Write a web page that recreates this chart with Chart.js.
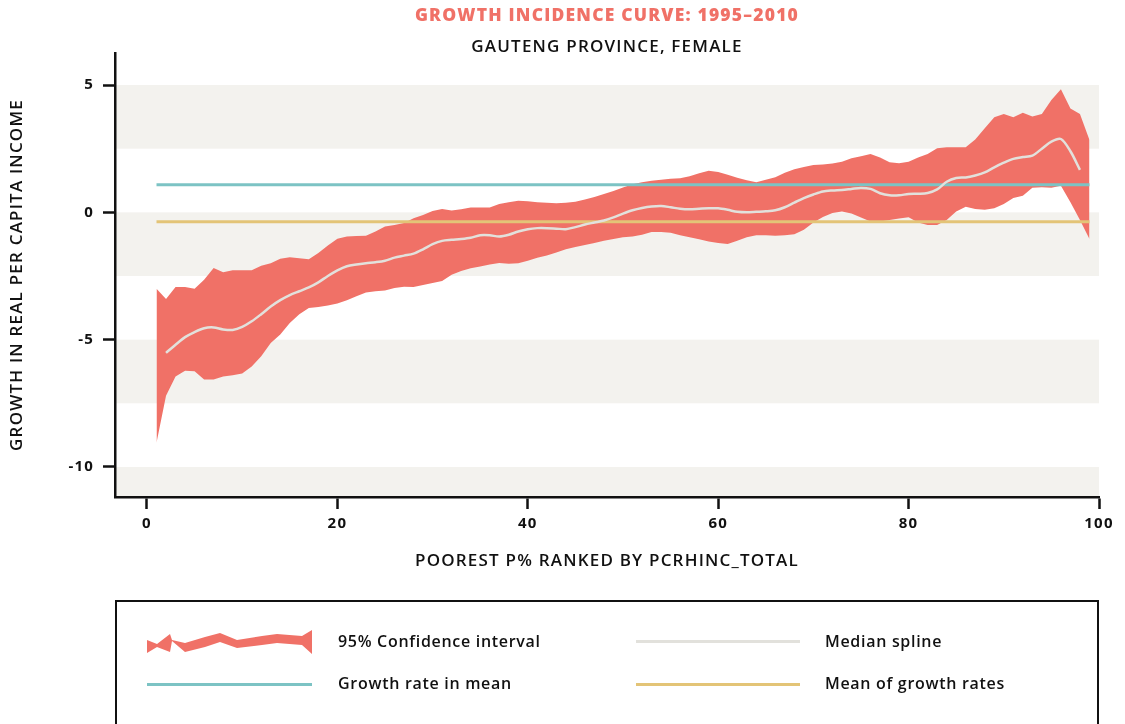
<!DOCTYPE html>
<html>
<head>
<meta charset="utf-8">
<script src="https://cdn.jsdelivr.net/npm/chart.js@4.4.1/dist/chart.umd.min.js"></script>
<style>
 html,body{margin:0;padding:0;background:#fff;}
 #wrap{position:relative;width:1125px;height:724px;overflow:hidden;}
 #chart_gic{position:absolute;left:0;top:0;}
 #legend_box{position:absolute;left:115px;top:600px;width:984px;height:160px;box-sizing:border-box;border:2.5px solid #111;}
 .lg{position:absolute;font-family:"Open Sans",Lato,sans-serif;font-weight:600;font-size:16px;letter-spacing:0.7px;color:#111;line-height:20px;}
 .sw{position:absolute;height:3px;}
</style>
</head>
<body>
<div id="wrap">
 <canvas id="chart_gic" width="1125" height="724"></canvas>
 <div id="legend_box"></div>
 <svg style="position:absolute;left:0;top:0" width="1125" height="724">
  <polygon fill="#F07167" points="147,640 157,644 170,634 172,640 185,643 205,637 220,633 237,640 262,636 277,634 302,636 312,630 312,654 302,645 277,643 262,645 237,648 220,642 205,647 185,652 172,641 170,652 157,647 147,653"/>
 </svg>
 <div class="lg" style="left:338px;top:631px">95% Confidence interval</div>
 <div class="sw" style="left:636px;top:640px;width:164px;background:#E2E1DC"></div>
 <div class="lg" style="left:825px;top:631px">Median spline</div>
 <div class="sw" style="left:147px;top:683px;width:165px;background:#7CC3C4"></div>
 <div class="lg" style="left:338px;top:673px">Growth rate in mean</div>
 <div class="sw" style="left:636px;top:683px;width:164px;background:#E3C477"></div>
 <div class="lg" style="left:825px;top:673px">Mean of growth rates</div>
</div>
<script>
// percentiles 1..99 (confidence interval), median spline runs 2..98
var ci_pct=[];
for(var i=1;i<=99;i++){ci_pct.push(i);}
var med_pct=[];
for(var j=2;j<=98;j++){med_pct.push(j);}

var ci_upper=[-3.0,-3.4,-2.93,-2.93,-3.0,-2.65,-2.19,-2.35,-2.27,-2.27,
 -2.27,-2.1,-2.0,-1.82,-1.76,-1.8,-1.84,-1.6,-1.3,-1.04,
 -0.95,-0.93,-0.92,-0.75,-0.56,-0.5,-0.42,-0.23,-0.1,0.05,
 0.13,0.07,0.12,0.19,0.19,0.19,0.33,0.4,0.46,0.44,
 0.4,0.38,0.36,0.38,0.42,0.5,0.6,0.72,0.84,0.98,
 1.1,1.18,1.24,1.28,1.32,1.34,1.42,1.54,1.63,1.58,
 1.48,1.36,1.26,1.18,1.28,1.38,1.55,1.69,1.78,1.86,
 1.88,1.92,1.99,2.12,2.2,2.29,2.15,1.97,1.93,1.99,
 2.15,2.29,2.52,2.56,2.56,2.56,2.86,3.3,3.73,3.86,
 3.73,3.91,3.76,3.86,4.41,4.83,4.08,3.86,2.84];

var ci_lower=[-9.05,-7.2,-6.45,-6.22,-6.24,-6.57,-6.57,-6.45,-6.4,-6.33,
 -6.05,-5.65,-5.13,-4.8,-4.35,-4.0,-3.76,-3.72,-3.66,-3.58,
 -3.45,-3.3,-3.15,-3.1,-3.07,-2.97,-2.92,-2.93,-2.85,-2.78,
 -2.7,-2.45,-2.3,-2.2,-2.13,-2.05,-1.99,-2.02,-2.0,-1.9,
 -1.78,-1.7,-1.58,-1.45,-1.36,-1.28,-1.2,-1.12,-1.05,-0.98,
 -0.95,-0.88,-0.77,-0.77,-0.8,-0.9,-0.98,-1.06,-1.15,-1.2,
 -1.24,-1.12,-0.98,-0.9,-0.9,-0.92,-0.9,-0.86,-0.68,-0.4,
 -0.18,-0.03,0.03,-0.05,-0.2,-0.36,-0.36,-0.3,-0.24,-0.19,
 -0.4,-0.5,-0.5,-0.3,0.03,0.22,0.13,0.1,0.16,0.33,
 0.56,0.65,0.97,0.99,0.97,1.04,0.4,-0.3,-1.05];

var median_spline=[-5.52,-5.2,-4.9,-4.7,-4.55,-4.52,-4.6,-4.62,-4.5,
 -4.28,-4.0,-3.7,-3.45,-3.25,-3.1,-2.95,-2.75,-2.5,-2.28,
 -2.12,-2.05,-2.0,-1.96,-1.9,-1.78,-1.7,-1.62,-1.45,-1.25,
 -1.12,-1.08,-1.05,-1.0,-0.9,-0.9,-0.95,-0.88,-0.75,-0.66,
 -0.62,-0.62,-0.64,-0.66,-0.58,-0.48,-0.4,-0.32,-0.2,-0.05,
 0.08,0.17,0.23,0.25,0.2,0.14,0.12,0.14,0.16,0.16,
 0.1,0.02,0.0,0.02,0.04,0.08,0.2,0.38,0.56,0.7,
 0.82,0.86,0.88,0.92,0.96,0.92,0.75,0.67,0.67,0.72,
 0.73,0.76,0.9,1.2,1.35,1.37,1.45,1.57,1.77,1.95,
 2.1,2.17,2.23,2.5,2.78,2.88,2.4,1.67];

var growth_rate_in_mean=1.08;
var mean_of_growth_rates=-0.37;
var line_ends=[1,99];

// alternating shaded bands [from,to]
var band_ranges=[[2.5,5],[-2.5,0],[-7.5,-5],[-12.5,-10]];

function pts(xs,ys){
 var out=[];
 for(var k=0;k<xs.length;k++){out.push({x:xs[k],y:ys[k]});}
 return out;
}

var bandPlugin={
 id:'bands',
 beforeDraw:function(chart){
  var ctx=chart.ctx, a=chart.chartArea, ys=chart.scales.y;
  ctx.letterSpacing='1.2px';
  ctx.save();
  ctx.beginPath();ctx.rect(a.left,a.top,a.right-a.left,a.bottom-a.top);ctx.clip();
  ctx.fillStyle='#F3F2EE';
  band_ranges.forEach(function(b){
   var y1=ys.getPixelForValue(b[1]), y2=ys.getPixelForValue(b[0]);
   ctx.fillRect(a.left,y1,a.right-a.left,y2-y1);
  });
  ctx.restore();
 }
};

var font_main="'Open Sans', Lato, sans-serif";
var chartid=document.getElementById("chart_gic");
var chart_obj=new Chart(chartid,{
 type:'line',
 data:{
  datasets:[
   {label:'Median spline',data:pts(med_pct,median_spline),borderColor:'#E2E1DC',borderWidth:2.5,pointRadius:0,tension:0.3,fill:false,order:0},
   {label:'Growth rate in mean',data:pts(line_ends,[growth_rate_in_mean,growth_rate_in_mean]),borderColor:'#7CC3C4',borderWidth:3,pointRadius:0,fill:false,order:0},
   {label:'Mean of growth rates',data:pts(line_ends,[mean_of_growth_rates,mean_of_growth_rates]),borderColor:'#E3C477',borderWidth:3,pointRadius:0,fill:false,order:0},
   {label:'ci lower',data:pts(ci_pct,ci_lower),borderWidth:0,borderColor:'rgba(0,0,0,0)',pointRadius:0,fill:false,order:2},
   {label:'95% Confidence interval',data:pts(ci_pct,ci_upper),borderWidth:0,borderColor:'rgba(0,0,0,0)',backgroundColor:'#F07167',pointRadius:0,fill:'-1',order:1}
  ]
 },
 options:{
  responsive:false,
  animation:false,
  layout:{padding:{left:0,right:26,top:0,bottom:127}},
  plugins:{
   legend:{display:false},
   tooltip:{enabled:false},
   title:{display:true,fullSize:false,text:'GROWTH INCIDENCE CURVE: 1995\u20132010',color:'#F07167',
    font:{family:font_main,size:17.5,weight:'800',lineHeight:1},padding:{top:7.25,bottom:6}},
   subtitle:{display:true,fullSize:false,text:'GAUTENG PROVINCE, FEMALE',color:'#111',
    font:{family:font_main,size:17,weight:'600',lineHeight:0.7},padding:{top:10.3,bottom:0}}
  },
  scales:{
   x:{
    type:'linear',min:-3.36,max:100,
    afterFit:function(s){s.height=100;},
    border:{display:true,color:'#111',width:2.5},
    grid:{display:true,drawOnChartArea:false,drawTicks:true,tickLength:12,tickWidth:2.5,tickColor:'#111'},
    ticks:{stepSize:20,includeBounds:false,color:'#111',padding:6,font:{family:font_main,size:15,weight:'bold'}},
    title:{display:true,text:'POOREST P% RANKED BY PCRHINC_TOTAL',color:'#111',font:{family:font_main,size:17,weight:'600',lineHeight:1.2},padding:{top:0,bottom:26}}
   },
   y:{
    min:-11.18,max:6.26,
    afterFit:function(s){s.width=115;},
    border:{display:true,color:'#111',width:2.5},
    grid:{display:true,drawOnChartArea:false,drawTicks:true,tickLength:12,tickWidth:2.5,tickColor:'#111'},
    ticks:{stepSize:5,includeBounds:false,color:'#111',padding:9,font:{family:font_main,size:15,weight:'bold'}},
    title:{display:true,text:'GROWTH IN REAL PER CAPITA INCOME',color:'#111',font:{family:font_main,size:17,weight:'600',lineHeight:1.2},padding:{top:7,bottom:0}}
   }
  }
 },
 plugins:[bandPlugin]
});
</script>
</body>
</html>
